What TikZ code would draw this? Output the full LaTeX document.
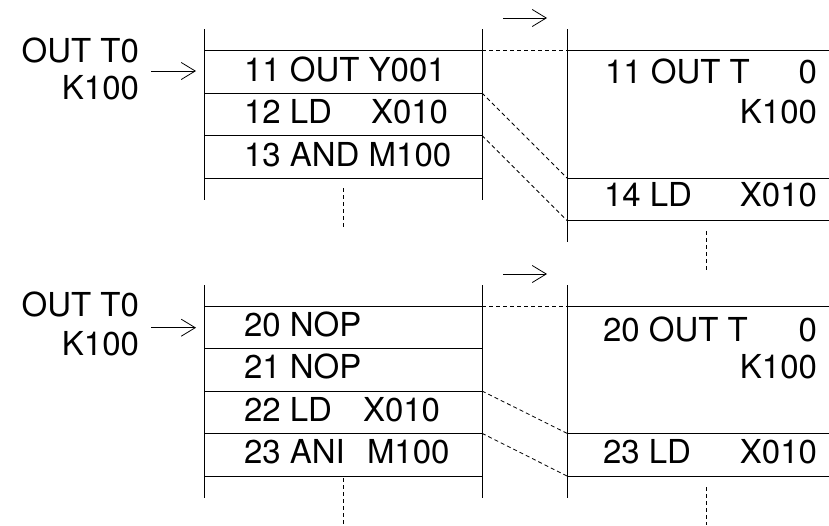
\documentclass[tikz,border=0pt]{standalone}
\usepackage{fontspec}
\setmainfont{TeX Gyre Heros}
\usetikzlibrary{arrows.meta}
\begin{document}
\begin{tikzpicture}[x=1pt,y=-1pt,
  every node/.style={inner sep=0pt,outer sep=0pt,font=\fontsize{33}{36}\selectfont},
  rule/.style={line width=0.9pt},
  dashrule/.style={line width=0.8pt,dash pattern=on 4pt off 3pt},
  arr/.style={line width=0.8pt,-{Straight Barb[length=14pt,width=17pt,line width=0.8pt]}},
  lt/.style={anchor=base west},
  rt/.style={anchor=base east}]
\useasboundingbox (0,0) rectangle (829,525);

% ===== top block =====
% left table
\draw[rule] (204,29) -- (204,200);
\draw[rule] (482,29) -- (482,200);
\foreach \y/\n in {50.5/a1,93/a2,135.5/a3,178/a4}{
  \coordinate (L\n) at (482,\y);
  \draw[rule] (204,\y) -- (L\n);
}
\node[lt] (t11) at (244,81.7) {11 OUT Y001};
\node[lt] (t12) at (244,123.3) {12 LD};
\node[lt] (t12b) at (371,123.3) {X010};
\node[lt] (t13) at (244,166) {13 AND M100};
\draw[dashrule] (343,188) -- (343,229);
% label and arrow
\node[rt] (lab1) at (139,62.7) {OUT T0};
\node[rt] (lab1b) at (139,99.3) {K100};
\coordinate (a1s) at (151,71);
\coordinate (a1e) at (196,71);
\draw[arr] (a1s) -- (a1e);
\coordinate (b1s) at (503,18);
\coordinate (b1e) at (547,18);
\draw[arr] (b1s) -- (b1e);
% right table
\draw[rule] (567,29) -- (567,242);
\foreach \y/\n in {50.5/a1,178/a3,220.5/a4}{
  \coordinate (R\n) at (567,\y);
  \draw[rule] (R\n) -- (829,\y);
}
\node[lt] (r11) at (605,83.3) {11 OUT T};
\node[rt] (r11b) at (817,83.3) {0};
\node[rt] (r11c) at (817,123.3) {K100};
\node[lt] (r14) at (604,206) {14 LD};
\node[rt] (r14b) at (817,206) {X010};
\draw[dashrule] (706,231) -- (706,270);
% connectors
\draw[dashrule] (La1) -- (Ra1);
\draw[dashrule] (La2) -- (Ra3);
\draw[dashrule] (La3) -- (Ra4);

% ===== bottom block =====
\draw[rule] (204,285) -- (204,498);
\draw[rule] (482,285) -- (482,498);
\foreach \y/\n in {306/b1,348.3/b2,391/b3,433.3/b4,476/b5}{
  \coordinate (L\n) at (482,\y);
  \draw[rule] (204,\y) -- (L\n);
}
\node[lt] (t20) at (244,336) {20 NOP};
\node[lt] (t21) at (244,378.3) {21 NOP};
\node[lt] (t22) at (244,421) {22 LD};
\node[lt] (t22b) at (363,421) {X010};
\node[lt] (t23) at (244,463.3) {23 ANI};
\node[lt] (t23b) at (367,463.3) {M100};
\draw[dashrule] (343,478) -- (343,525);
\node[rt] (lab2) at (139,316.7) {OUT T0};
\node[rt] (lab2b) at (139,355) {K100};
\coordinate (a2s) at (151,327.7);
\coordinate (a2e) at (196,327.7);
\draw[arr] (a2s) -- (a2e);
\coordinate (b2s) at (503,274);
\coordinate (b2e) at (547,274);
\draw[arr] (b2s) -- (b2e);
\draw[rule] (567,285) -- (567,498);
\foreach \y/\n in {306/b1,433.3/b4,476/b5}{
  \coordinate (R\n) at (567,\y);
  \draw[rule] (R\n) -- (829,\y);
}
\node[lt] (r20) at (603,341.7) {20 OUT T};
\node[rt] (r20b) at (817,341.7) {0};
\node[rt] (r20c) at (817,378.3) {K100};
\node[lt] (r23) at (603,463.3) {23 LD};
\node[rt] (r23b) at (817,463.3) {X010};
\draw[dashrule] (706,487) -- (706,525);
\draw[dashrule] (Lb1) -- (Rb1);
\draw[dashrule] (Lb3) -- (Rb4);
\draw[dashrule] (Lb4) -- (Rb5);
\end{tikzpicture}
\end{document}
